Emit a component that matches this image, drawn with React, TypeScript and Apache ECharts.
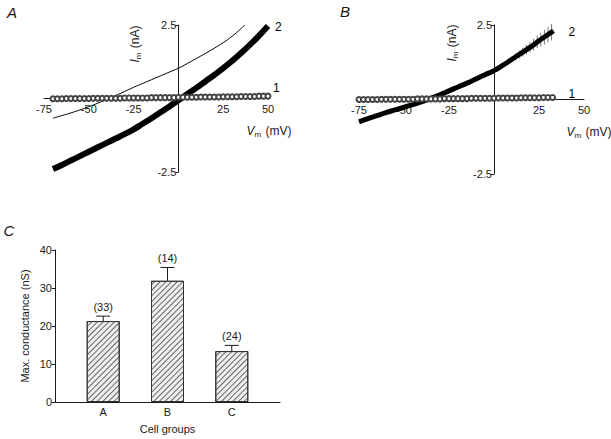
import React, { useEffect, useRef } from "react";
import * as echarts from "echarts";

// ---------- Panel A data ----------
const aCurve1: [number, number][] = [
  [-70, -0.01], [-67.5, -0.01], [-65, -0.01], [-62.5, 0.0], [-60, 0.0], [-57.5, 0.0], [-55, 0.0],
  [-52.5, 0.0], [-50, 0.0], [-47.5, 0.01], [-45, 0.01], [-42.5, 0.01], [-40, 0.01], [-37.5, 0.01],
  [-35, 0.01], [-32.5, 0.01], [-30, 0.02], [-27.5, 0.02], [-25, 0.02], [-22.5, 0.02], [-20, 0.02],
  [-17.5, 0.02], [-15, 0.03], [-12.5, 0.03], [-10, 0.03], [-7.5, 0.03], [-5, 0.03], [-2.5, 0.03],
  [0, 0.04], [2.5, 0.04], [5, 0.04], [7.5, 0.04], [10, 0.04], [12.5, 0.05], [15, 0.05], [17.5, 0.05],
  [20, 0.05], [22.5, 0.05], [25, 0.06], [27.5, 0.06], [30, 0.06], [32.5, 0.06], [35, 0.07],
  [37.5, 0.07], [40, 0.07], [42.5, 0.07], [45, 0.08], [47.5, 0.08], [50, 0.08],
];
const aCurve2: [number, number][] = [
  [-70, -2.4], [-65, -2.26], [-60, -2.11], [-55, -1.96], [-50, -1.81], [-45, -1.66], [-40, -1.51],
  [-35, -1.36], [-30, -1.21], [-25, -1.05], [-20, -0.86], [-15, -0.67], [-10, -0.47], [-5, -0.27],
  [0, -0.06], [5, 0.15], [10, 0.36], [15, 0.58], [20, 0.8], [25, 1.03], [30, 1.28], [35, 1.55],
  [40, 1.83], [45, 2.14], [50, 2.47],
];
const aThin: [number, number][] = [
  [-70, -0.67], [-65, -0.58], [-60, -0.49], [-55, -0.39], [-50, -0.28], [-45, -0.16], [-40, -0.03],
  [-35, 0.1], [-30, 0.24], [-25, 0.38], [-20, 0.51], [-15, 0.64], [-10, 0.77], [-5, 0.9], [0, 1.03],
  [5, 1.19], [10, 1.36], [15, 1.53], [20, 1.71], [25, 1.9], [30, 2.12], [35, 2.38], [37, 2.5],
];

// ---------- Panel B data ----------
const bCurve1: [number, number][] = [
  [-75, 0.0], [-72.5, 0.0], [-70, 0.0], [-67.5, 0.0], [-65, 0.0], [-62.5, 0.01], [-60, 0.01],
  [-57.5, 0.01], [-55, 0.01], [-52.5, 0.01], [-50, 0.01], [-47.5, 0.01], [-45, 0.01], [-42.5, 0.02],
  [-40, 0.02], [-37.5, 0.02], [-35, 0.02], [-32.5, 0.02], [-30, 0.02], [-27.5, 0.03], [-25, 0.03],
  [-22.5, 0.03], [-20, 0.03], [-17.5, 0.03], [-15, 0.03], [-12.5, 0.04], [-10, 0.04], [-7.5, 0.04],
  [-5, 0.04], [-2.5, 0.04], [0, 0.04], [2.5, 0.05], [5, 0.05], [7.5, 0.05], [10, 0.05], [12.5, 0.05],
  [15, 0.06], [17.5, 0.06], [20, 0.06], [22.5, 0.06], [25, 0.06], [27.5, 0.07], [30, 0.07], [32.5, 0.07],
];
const bCurve2: [number, number][] = [
  [-75, -0.75], [-70, -0.64], [-65, -0.54], [-60, -0.44], [-55, -0.35], [-50, -0.26], [-45, -0.17],
  [-40, -0.07], [-35, 0.04], [-30, 0.16], [-25, 0.29], [-20, 0.42], [-15, 0.55], [-10, 0.69],
  [-5, 0.83], [0, 0.97], [5, 1.15], [10, 1.35], [15, 1.55], [20, 1.75], [25, 1.97], [30, 2.18], [33, 2.31],
];
// [Vm, Im, SEM]
const bCurve2Err: [number, number, number][] = [
  [0, 0.97, 0.04], [2, 1.05, 0.05], [4, 1.11, 0.06], [6, 1.19, 0.08], [8, 1.27, 0.09], [10, 1.35, 0.1],
  [12, 1.43, 0.12], [14, 1.51, 0.13], [16, 1.59, 0.15], [18, 1.67, 0.16], [20, 1.75, 0.18],
  [22, 1.84, 0.2], [24, 1.93, 0.21], [26, 2.01, 0.23], [28, 2.09, 0.25], [30, 2.18, 0.26], [32, 2.26, 0.28],
];

// ---------- Panel C data ----------
const cellGroups = ["A", "B", "C"];
const maxConductance = [21.3, 31.9, 13.4];
const conductanceSem = [1.3, 3.5, 1.5];
const cellCounts = ["(33)", "(14)", "(24)"];

const ivTicks = [-75, -50, -25, 0, 25, 50];
const FONT = "'Liberation Sans', Arial, sans-serif";
const INK = "#1a1a1a";

function ivAxes(gridIndex: number, width: number, height: number) {
  // axes cross at (0 mV, 0 nA): offset them into the grid
  const x = {
    type: "value",
    gridIndex,
    min: -75,
    max: 50,
    interval: 25,
    position: "bottom",
    offset: -height / 2,
    axisLine: { onZero: false, lineStyle: { color: INK, width: 1 } },
    axisTick: { show: false },
    splitLine: { show: false },
    axisLabel: {
      color: INK,
      fontSize: 11,
      fontFamily: FONT,
      margin: 5,
      showMinLabel: true,
      showMaxLabel: true,
      hideOverlap: false,
      formatter: (v: number) => (v === 0 || !ivTicks.includes(v) ? "" : String(v)),
    },
  };
  const y = {
    type: "value",
    gridIndex,
    min: -2.5,
    max: 2.5,
    interval: 2.5,
    position: "left",
    offset: -(75 / 125) * width,
    axisLine: { show: true, onZero: false, lineStyle: { color: INK, width: 1 } },
    axisTick: { show: true, length: 3, lineStyle: { color: INK } },
    splitLine: { show: false },
    axisLabel: {
      color: INK,
      fontSize: 11,
      fontFamily: FONT,
      margin: 2,
      formatter: (v: number) => (v === 0 ? "" : String(v)),
    },
  };
  return { x, y };
}

function circleSeries(data: [number, number][], idx: number, label: string, offset: number[]) {
  return {
    type: "line",
    xAxisIndex: idx,
    yAxisIndex: idx,
    data,
    symbol: "emptyCircle",
    symbolSize: 5,
    showSymbol: true,
    clip: false,
    itemStyle: { color: "#444", borderWidth: 1 },
    lineStyle: { color: "#666", width: 1 },
    endLabel: { show: true, formatter: label, offset, color: "#000", fontSize: 12, fontFamily: FONT },
    z: 4,
  };
}

function thickSeries(data: [number, number][], idx: number, label: string, offset: number[], width: number) {
  return {
    type: "line",
    xAxisIndex: idx,
    yAxisIndex: idx,
    data,
    smooth: true,
    showSymbol: false,
    clip: false,
    lineStyle: { color: "#000", width },
    endLabel: { show: true, formatter: label, offset, color: "#000", fontSize: 12, fontFamily: FONT },
    z: 3,
  };
}

function subLabel(x: number, y: number, letter: string, unit: string, rotated: boolean) {
  return {
    type: "text",
    x,
    y,
    rotation: rotated ? Math.PI / 2 : 0,
    style: {
      text: `{v|${letter}}{s|m}{u| (${unit})}`,
      align: "center",
      verticalAlign: "middle",
      fill: INK,
      fontFamily: FONT,
      rich: {
        v: { fontStyle: "italic", fontSize: 12, fontFamily: FONT, fill: INK, lineHeight: 14 },
        s: { fontSize: 8, fontFamily: FONT, fill: INK, padding: [6, 1, 0, 0], lineHeight: 14 },
        u: { fontSize: 12, fontFamily: FONT, fill: INK, lineHeight: 14 },
      },
    },
  };
}

function panelLetter(x: number, y: number, t: string) {
  return {
    type: "text",
    x,
    y,
    style: { text: t, fontSize: 15, fontStyle: "italic", fontFamily: FONT, fill: INK, align: "center", verticalAlign: "middle" },
  };
}

export default function App() {
  const ref = useRef<HTMLDivElement>(null);
  useEffect(() => {
    if (!ref.current) return;
    const chart = echarts.init(ref.current, undefined, { renderer: "svg" });
    const A = ivAxes(0, 224, 147);
    const B = ivAxes(1, 225, 149);
    const option: any = {
      animation: false,
      backgroundColor: "#fff",
      textStyle: { fontFamily: FONT },
      grid: [
        { left: 44, top: 25, width: 224, height: 147 },
        { left: 359, top: 25, width: 225, height: 149 },
        { left: 55, top: 250, width: 225, height: 152 },
      ],
      xAxis: [
        A.x,
        B.x,
        {
          type: "value",
          gridIndex: 2,
          min: 0.25,
          max: 3.75,
          axisLine: { lineStyle: { color: INK, width: 1 } },
          axisTick: { show: false },
          splitLine: { show: false },
          axisLabel: {
            customValues: [1, 2, 3],
            color: INK,
            fontSize: 11,
            fontFamily: FONT,
            margin: 4,
            formatter: (v: number) => cellGroups[Math.round(v) - 1] ?? "",
          },
          name: "Cell groups",
          nameLocation: "middle",
          nameGap: 21,
          nameTextStyle: { color: INK, fontSize: 11, fontFamily: FONT },
        },
      ],
      yAxis: [
        A.y,
        B.y,
        {
          type: "value",
          gridIndex: 2,
          min: 0,
          max: 40,
          interval: 10,
          axisLine: { show: true, lineStyle: { color: INK, width: 1 } },
          axisTick: { show: true, length: 3, lineStyle: { color: INK } },
          splitLine: { show: false },
          axisLabel: { color: INK, fontSize: 11, fontFamily: FONT, margin: 3 },
          name: "Max. conductance (nS)",
          nameLocation: "middle",
          nameGap: 25,
          nameTextStyle: { color: INK, fontSize: 11, fontFamily: FONT },
        },
      ],
      series: [
        thickSeries(aCurve2, 0, "2", [-1, 1], 6),
        {
          type: "line",
          xAxisIndex: 0,
          yAxisIndex: 0,
          data: aThin,
          smooth: true,
          showSymbol: false,
          clip: false,
          lineStyle: { color: "#000", width: 1 },
          z: 2,
        },
        circleSeries(aCurve1, 0, "1", [-3, -8]),
        {
          type: "custom",
          xAxisIndex: 1,
          yAxisIndex: 1,
          data: bCurve2Err,
          clip: false,
          z: 2,
          renderItem: (params: any, api: any) => {
            const v = api.value(0);
            const i = api.value(1);
            const e = api.value(2);
            const p0 = api.coord([v, i - e]);
            const p1 = api.coord([v, i + e]);
            return {
              type: "line",
              shape: { x1: p0[0], y1: p0[1], x2: p1[0], y2: p1[1] },
              style: { stroke: "#777", lineWidth: 1 },
            };
          },
        },
        thickSeries(bCurve2, 1, "2", [7, 1], 5),
        circleSeries(bCurve1, 1, "1", [8, -3]),
        {
          type: "bar",
          xAxisIndex: 2,
          yAxisIndex: 2,
          barWidth: 33,
          data: maxConductance.map((m, k) => [k + 1, m]),
          itemStyle: {
            color: "#efefef",
            borderColor: "#333",
            borderWidth: 1,
            decal: {
              symbol: "rect",
              symbolSize: 1,
              dashArrayX: [1, 0],
              dashArrayY: [1, 3],
              rotation: -Math.PI / 4,
              color: "#666",
            },
          },
        },
        {
          type: "custom",
          xAxisIndex: 2,
          yAxisIndex: 2,
          data: maxConductance.map((m, k) => [k + 1, m, conductanceSem[k]]),
          z: 5,
          renderItem: (params: any, api: any) => {
            const x = api.value(0);
            const m = api.value(1);
            const e = api.value(2);
            const p0 = api.coord([x, m]);
            const p1 = api.coord([x, m + e]);
            return {
              type: "group",
              children: [
                { type: "line", shape: { x1: p0[0], y1: p0[1], x2: p1[0], y2: p1[1] }, style: { stroke: INK, lineWidth: 1 } },
                { type: "line", shape: { x1: p1[0] - 7, y1: p1[1], x2: p1[0] + 7, y2: p1[1] }, style: { stroke: INK, lineWidth: 1 } },
                {
                  type: "text",
                  x: p1[0],
                  y: p1[1] - 4,
                  style: {
                    text: cellCounts[params.dataIndex],
                    align: "center",
                    verticalAlign: "bottom",
                    fontSize: 11,
                    fontFamily: FONT,
                    fill: INK,
                  },
                },
              ],
            };
          },
        },
      ],
      graphic: [
        panelLetter(12, 12, "A"),
        panelLetter(345, 11, "B"),
        panelLetter(9, 230, "C"),
        subLabel(135, 44, "I", "nA", true),
        subLabel(452, 43, "I", "nA", true),
        subLabel(269, 131, "V", "mV", false),
        subLabel(589, 132, "V", "mV", false),
      ],
    };
    chart.setOption(option);
    return () => chart.dispose();
  }, []);
  return <div ref={ref} style={{ position: "absolute", left: 0, top: 0, width: 611, height: 439 }} />;
}
